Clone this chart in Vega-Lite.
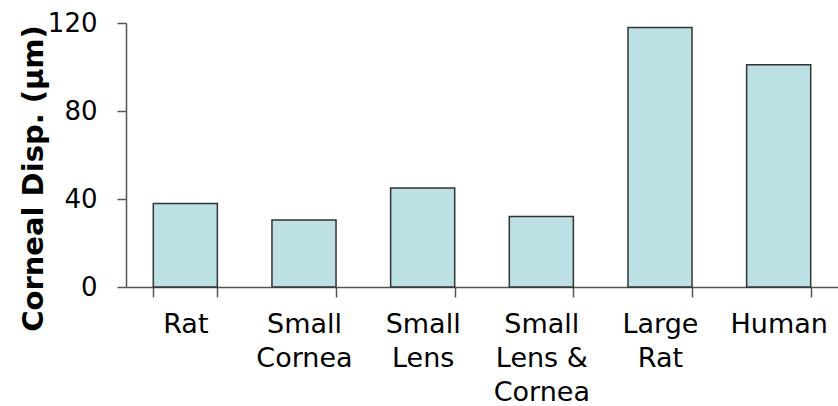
{
  "$schema": "https://vega.github.io/schema/vega-lite/v6.json",
  "autosize": "none",
  "padding": {"left": 126, "top": 23, "right": 0, "bottom": 119},
  "width": 712,
  "height": 264,
  "background": "white",
  "config": {"view": {"stroke": null}, "font": "DejaVu Sans"},
  "data": {
    "values": [
      {"model": "Rat", "disp": 38},
      {"model": "Small Cornea", "disp": 30.5},
      {"model": "Small Lens", "disp": 45},
      {"model": "Small Lens & Cornea", "disp": 32},
      {"model": "Large Rat", "disp": 118},
      {"model": "Human", "disp": 101}
    ]
  },
  "mark": {"type": "bar", "fill": "#bce0e3", "stroke": "#333333", "strokeWidth": 1.5},
  "encoding": {
    "x": {
      "field": "model",
      "type": "nominal",
      "sort": null,
      "scale": {"paddingInner": 0.46, "paddingOuter": 0.23},
      "axis": {
        "title": null,
        "labelAngle": 0,
        "labelFont": "DejaVu Sans",
        "labelFontSize": 27,
        "labelColor": "#000000",
        "labelLineHeight": 34,
        "labelPadding": 14,
        "labelExpr": "datum.label == 'Small Lens & Cornea' ? ['Small', 'Lens &', 'Cornea'] : split(datum.label, ' ')",
        "tickBand": "extent",
        "tickSize": 10,
        "tickColor": "#555555",
        "tickWidth": 1.5,
        "domainColor": "#555555",
        "domainWidth": 1.5,
        "labelOverlap": false,
        "labelLimit": 0
      }
    },
    "y": {
      "field": "disp",
      "type": "quantitative",
      "scale": {"domain": [0, 120], "nice": false},
      "axis": {
        "title": "Corneal Disp. (µm)",
        "titleFont": "DejaVu Sans",
        "titleFontSize": 29,
        "titleFontWeight": "bold",
        "titleColor": "#000000",
        "titleAngle": -90,
        "titleAlign": "center",
        "titleBaseline": "alphabetic",
        "titleX": -84,
        "titleY": 155,
        "values": [0, 40, 80, 120],
        "grid": false,
        "labelFont": "DejaVu Sans",
        "labelFontSize": 26,
        "labelColor": "#000000",
        "labelPadding": 20,
        "tickSize": 9,
        "tickColor": "#555555",
        "tickWidth": 1.5,
        "domainColor": "#555555",
        "domainWidth": 1.5
      }
    }
  }
}
